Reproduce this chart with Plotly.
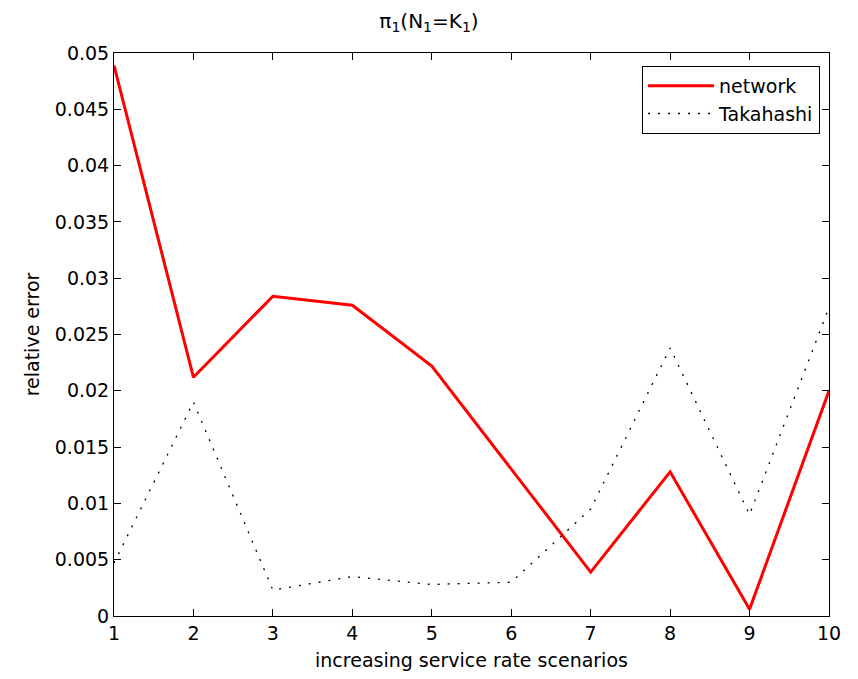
import plotly.graph_objects as go

scenarios = [1, 2, 3, 4, 5, 6, 7, 8, 9, 10]
network = [0.0489, 0.0212, 0.0284, 0.0276, 0.0222, 0.0131, 0.0039, 0.0128, 0.0006, 0.0200]
takahashi = [0.0047, 0.0190, 0.0023, 0.0035, 0.0028, 0.0030, 0.0095, 0.0238, 0.0090, 0.0274]
y_ticks = [0, 0.005, 0.01, 0.015, 0.02, 0.025, 0.03, 0.035, 0.04, 0.045, 0.05]
y_tick_text = ["0", "0.005", "0.01", "0.015", "0.02", "0.025", "0.03", "0.035", "0.04", "0.045", "0.05"]

fig = go.Figure()
fig.add_trace(go.Scatter(x=scenarios, y=network, mode="lines", name="network",
                         line=dict(color="#ff0000", width=3)))
fig.add_trace(go.Scatter(x=scenarios, y=takahashi, mode="lines", name="Takahashi",
                         line=dict(color="#000000", width=1.3, dash="2px,8px")))

font = dict(family="DejaVu Sans, Liberation Sans, Arial, sans-serif", size=19, color="black")
axis_common = dict(showline=True, linecolor="black", linewidth=1, mirror="ticks",
                   ticks="inside", ticklen=7, tickcolor="black", showgrid=False,
                   zeroline=False, tickfont=font)

fig.update_layout(
    width=858, height=679,
    margin=dict(l=114, r=29, t=53, b=61),
    paper_bgcolor="white", plot_bgcolor="white",
    font=font,
    title=dict(text="π<sub>1</sub>(N<sub>1</sub>=K<sub>1</sub>)", x=0.5, xanchor="center",
               y=1 - 21 / 679, yanchor="middle", font=dict(size=20)),
    xaxis=dict(range=[1, 10], tickvals=scenarios,
               title=dict(text="increasing service rate scenarios", font=font, standoff=10),
               **axis_common),
    yaxis=dict(range=[0, 0.05], tickvals=y_ticks, ticktext=y_tick_text,
               title=dict(text="relative error", font=font, standoff=10), **axis_common),
    legend=dict(x=0.9875, y=0.977, xanchor="right", yanchor="top", bgcolor="white",
                bordercolor="black", borderwidth=1, font=dict(size=19),
                tracegroupgap=0, itemwidth=66),
    showlegend=True,
)

fig.write_html("out.html")
